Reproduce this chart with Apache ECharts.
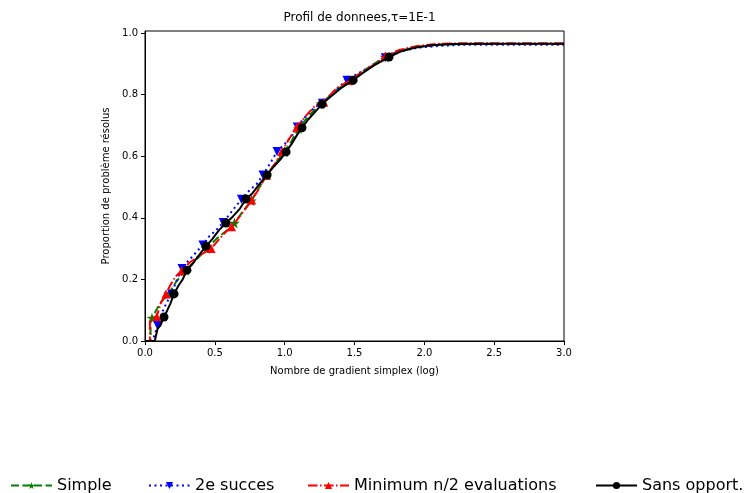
<!DOCTYPE html>
<html>
<head>
<meta charset="utf-8">
<script src="https://cdn.jsdelivr.net/npm/echarts@6/dist/echarts.min.js"></script>
<style>
html,body{margin:0;padding:0;background:#fff;}
#chart{width:747px;height:493px;}
</style>
</head>
<body>
<div id="chart"></div>
<script>
// ---- data ----
const titleText = 'Profil de donnees,\u03c4=1E-1';
const xTicks = [0, 0.5, 1.0, 1.5, 2.0, 2.5, 3.0];
const yTicks = [0, 0.2, 0.4, 0.6, 0.8, 1.0];
const seriesNames = ['Simple', '2e succes', 'Minimum n/2 evaluations', 'Sans opport.'];

const simpleX = [0, 0.04, 0.04, 0.05, 0.08, 0.12, 0.17, 0.22, 0.29, 0.36, 0.44, 0.52, 0.59, 0.64, 0.70, 0.76, 0.82, 0.87, 0.93, 1.0, 1.05, 1.10, 1.17, 1.26, 1.36, 1.46, 1.56, 1.64, 1.72, 1.82, 1.95, 2.1, 2.3, 3.0];
const simpleY = [0, 0, 0.06, 0.075, 0.10, 0.13, 0.153, 0.19, 0.23, 0.26, 0.300, 0.335, 0.36, 0.383, 0.42, 0.455, 0.50, 0.539, 0.575, 0.615, 0.65, 0.69, 0.73, 0.77, 0.81, 0.846, 0.875, 0.90, 0.922, 0.942, 0.955, 0.962, 0.964, 0.964];
const simpleMarks = [3, 6, 8, 10, 13, 15, 17, 19, 21, 23, 25, 28];

const succesX = [0, 0.05, 0.07, 0.09, 0.12, 0.15, 0.19, 0.22, 0.265, 0.31, 0.36, 0.415, 0.46, 0.51, 0.56, 0.62, 0.69, 0.75, 0.80, 0.845, 0.90, 0.945, 1.0, 1.05, 1.09, 1.16, 1.22, 1.27, 1.35, 1.446, 1.55, 1.63, 1.72, 1.82, 1.95, 2.1, 2.3, 3.0];
const succesY = [0, 0, 0.02, 0.05, 0.09, 0.12, 0.153, 0.19, 0.235, 0.26, 0.285, 0.312, 0.34, 0.36, 0.385, 0.42, 0.46, 0.49, 0.51, 0.539, 0.58, 0.615, 0.64, 0.665, 0.695, 0.735, 0.76, 0.772, 0.81, 0.847, 0.875, 0.895, 0.92, 0.94, 0.952, 0.958, 0.962, 0.962];
const succesMarks = [3, 6, 8, 11, 14, 16, 19, 21, 24, 27, 29, 32];

const minX = [0, 0.035, 0.035, 0.084, 0.11, 0.15, 0.18, 0.22, 0.263, 0.32, 0.40, 0.473, 0.53, 0.58, 0.62, 0.67, 0.72, 0.764, 0.81, 0.87, 0.93, 0.98, 1.03, 1.088, 1.15, 1.22, 1.28, 1.37, 1.47, 1.56, 1.65, 1.72, 1.82, 1.95, 2.1, 2.3, 3.0];
const minY = [0, 0, 0.075, 0.079, 0.12, 0.153, 0.18, 0.21, 0.228, 0.255, 0.28, 0.30, 0.33, 0.355, 0.371, 0.40, 0.43, 0.458, 0.49, 0.538, 0.575, 0.615, 0.655, 0.695, 0.73, 0.765, 0.775, 0.82, 0.846, 0.875, 0.90, 0.925, 0.945, 0.958, 0.965, 0.967, 0.967];
const minMarks = [3, 5, 8, 11, 14, 17, 19, 21, 23, 26, 28, 31];

const sansX = [0, 0.07, 0.09, 0.11, 0.136, 0.16, 0.18, 0.208, 0.24, 0.27, 0.30, 0.34, 0.38, 0.437, 0.48, 0.53, 0.58, 0.62, 0.68, 0.723, 0.77, 0.82, 0.874, 0.92, 0.97, 1.01, 1.05, 1.09, 1.124, 1.17, 1.22, 1.267, 1.32, 1.40, 1.49, 1.56, 1.64, 1.747, 1.83, 1.93, 2.05, 2.2, 2.4, 3.0];
const sansY = [0, 0, 0.04, 0.05, 0.078, 0.10, 0.12, 0.153, 0.18, 0.20, 0.23, 0.25, 0.275, 0.308, 0.33, 0.36, 0.383, 0.40, 0.43, 0.461, 0.48, 0.51, 0.539, 0.565, 0.59, 0.614, 0.64, 0.67, 0.692, 0.72, 0.745, 0.769, 0.79, 0.82, 0.847, 0.87, 0.895, 0.922, 0.94, 0.952, 0.96, 0.964, 0.9655, 0.9655];
const sansMarks = [4, 7, 10, 13, 16, 19, 22, 25, 28, 31, 34, 37];

// ---- build ----
const STAR = 'path://M50,0 L61,35 L98,35 L68,57 L79,91 L50,70 L21,91 L32,57 L2,35 L39,35 Z';
const FONT = 'DejaVu Sans';

function mkData(xs, ys, marks, sym) {
  return xs.map((x, i) => ({
    value: [x, ys[i]],
    symbol: marks.includes(i) ? sym : 'none'
  }));
}

const defs = [
  {name: seriesNames[0], xs: simpleX, ys: simpleY, marks: simpleMarks, color: '#008000', sym: STAR, rot: 0, size: 11, dash: [8, 3.5]},
  {name: seriesNames[1], xs: succesX, ys: succesY, marks: succesMarks, color: '#0000ff', sym: 'triangle', rot: 180, size: 9, dash: [2, 3.5]},
  {name: seriesNames[2], xs: minX, ys: minY, marks: minMarks, color: '#ff0000', sym: 'triangle', rot: 0, size: 9, dash: [9.5, 2.5, 1.5, 2.5]},
  {name: seriesNames[3], xs: sansX, ys: sansY, marks: sansMarks, color: '#000000', sym: 'circle', rot: 0, size: 9, dash: 'solid'}
];

const series = defs.map((d, k) => ({
  name: d.name,
  type: 'line',
  data: mkData(d.xs, d.ys, d.marks, d.sym),
  symbol: d.sym,
  symbolSize: d.size,
  symbolRotate: d.rot,
  showSymbol: true,
  showAllSymbol: true,
  animation: false,
  z: 2 + k,
  itemStyle: {color: d.color, borderWidth: 0},
  lineStyle: {color: d.color, width: 2, type: d.dash}
}));

const legendLefts = [10, 148, 307, 595];
const legends = seriesNames.map((n, i) => ({
  data: [n],
  left: legendLefts[i],
  top: 477.5,
  padding: 0,
  itemWidth: 41,
  itemHeight: 9,
  itemGap: 0,
  textStyle: {fontFamily: FONT, fontSize: 16, color: '#000'},
  selectedMode: false
}));

const chart = echarts.init(document.getElementById('chart'));
chart.setOption({
  animation: false,
  backgroundColor: '#fff',
  title: {
    text: titleText,
    left: 354.5,
    textAlign: 'center',
    top: 7,
    textStyle: {fontFamily: FONT, fontSize: 12, fontWeight: 'normal', color: '#000'}
  },
  legend: legends,
  grid: {left: 145, right: 183, top: 31, bottom: 152, show: true, borderColor: '#000', borderWidth: 1, containLabel: false},
  xAxis: {
    type: 'value',
    min: xTicks[0],
    max: xTicks[xTicks.length - 1],
    interval: 0.5,
    name: 'Nombre de gradient simplex (log)',
    nameLocation: 'middle',
    nameGap: 25,
    nameTextStyle: {fontFamily: FONT, fontSize: 10, color: '#000'},
    axisLine: {show: true, onZero: false, lineStyle: {color: '#000', width: 1}},
    axisTick: {show: true, inside: false, length: 4, lineStyle: {color: '#000'}},
    axisLabel: {fontFamily: FONT, fontSize: 10, color: '#000', margin: 7, formatter: v => v.toFixed(1)},
    splitLine: {show: false}
  },
  yAxis: {
    type: 'value',
    min: yTicks[0],
    max: 1.0065,
    interval: 0.2,
    name: 'Proportion de problème résolus',
    nameLocation: 'middle',
    nameGap: 33,
    nameRotate: 90,
    nameTextStyle: {fontFamily: FONT, fontSize: 10, color: '#000'},
    axisLine: {show: true, onZero: false, lineStyle: {color: '#000', width: 1}},
    axisTick: {show: true, inside: false, length: 4, lineStyle: {color: '#000'}},
    axisLabel: {fontFamily: FONT, fontSize: 10, color: '#000', margin: 7, showMaxLabel: false, formatter: v => v.toFixed(1)},
    splitLine: {show: false}
  },
  series: series
});
</script>
</body>
</html>
